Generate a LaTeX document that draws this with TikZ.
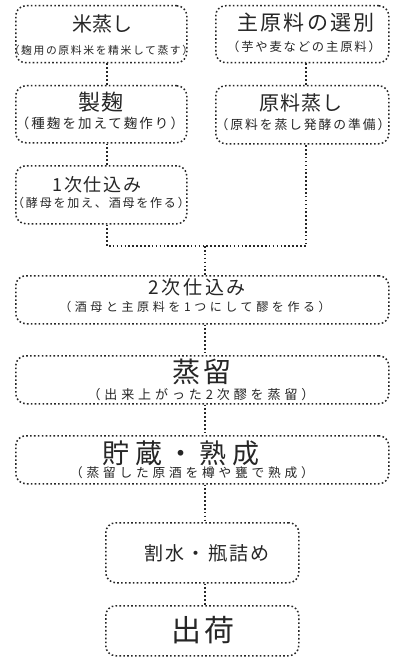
\documentclass[tikz,border=0pt]{standalone}
\usepackage{fontspec}
\newfontfamily\jp{Noto Sans CJK JP}
\newcommand{\jpf}[2]{\jp\fontsize{#1}{#1}\selectfont\addfontfeature{LetterSpace=#2}}
\begin{document}
\begin{tikzpicture}[x=1pt,y=-1pt,
  dotline/.style={draw=black!85, line width=1.5pt, dash pattern=on 1.6pt off 2.3pt},
  box/.style={dotline, rounded corners=10pt, inner sep=0pt, anchor=north west},
  wbox/.style={box, minimum width=373pt, minimum height=48pt},
  sbox/.style={box, minimum width=171pt, minimum height=57pt},
  nbox/.style={box, minimum width=193pt, minimum height=55pt},
  txt/.style={inner sep=0pt, text=black!85}]
\useasboundingbox[fill=white] (0,0) rectangle (398,666);

% boxes
\node[sbox] (b1) at (15,5) {};
\node[box, minimum width=173pt, minimum height=57pt] (b2) at (215,5) {};
\node[sbox] (b3) at (15,85) {};
\node[box, minimum width=173pt, minimum height=58pt] (b4) at (215,85) {};
\node[sbox, minimum height=58pt] (b5) at (15,165) {};
\node[wbox] (b6) at (15,275) {};
\node[wbox] (b7) at (15,355) {};
\node[wbox] (b8) at (15,435) {};
\node[box, minimum width=193pt, minimum height=60pt] (b9) at (105,522) {};
\node[box, minimum width=193pt, minimum height=50pt] (b10) at (105,605) {};

% texts
\node[txt, font=\jpf{20}{0}] (t1) at (102,24) {米蒸し};
\node[txt, font=\jpf{10.8}{15}] (s1) at (101,50) {（麹用の原料米を精米して蒸す）};
\node[txt, font=\jpf{21}{10}] (t2) at (306,23) {主原料の選別};
\node[txt, font=\jpf{12.3}{15}] (s2) at (304,47) {（芋や麦などの主原料）};
\node[txt, font=\jpf{22}{5}] (t3) at (101,102) {製麹};
\node[txt, font=\jpf{13.5}{15}] (s3) at (100,123) {（種麹を加えて麹作り）};
\node[txt, font=\jpf{20}{5}] (t4) at (301,103) {原料蒸し};
\node[txt, font=\jpf{12.8}{15}] (s4) at (303,125) {（原料を蒸し発酵の準備）};
\node[txt, font=\jpf{18}{10}] (t5) at (97,185) {1次仕込み};
\node[txt, font=\jpf{12}{15}] (s5) at (101,203) {（酵母を加え、酒母を作る）};
\node[txt, font=\jpf{19}{15}] (t6) at (197,287) {2次仕込み};
\node[txt, font=\jpf{12}{30}] (s6) at (195,307) {（酒母と主原料を1つにして醪を作る）};
\node[txt, font=\jpf{28}{10}] (t7) at (202,372) {蒸留};
\node[txt, font=\jpf{13}{30}] (s7) at (201,395) {（出来上がった2次醪を蒸留）};
\node[txt, font=\jpf{27}{20}] (t8) at (181,453) {貯蔵・熟成};
\node[txt, font=\jpf{12.7}{30}] (s8) at (192,473) {（蒸留した原酒を樽や甕で熟成）};
\node[txt, font=\jpf{19}{12}] (t9) at (207,553) {割水・瓶詰め};
\node[txt, font=\jpf{30}{8}] (t10) at (203,630) {出荷};

% connectors
\coordinate (cl) at (107,246);
\coordinate (cr) at (306,246);
\coordinate (cm) at (205,246);
\coordinate (cx) at (205,0);
\draw[dotline] (b1.south -| cl) -- (b3.north -| cl);
\draw[dotline] (b2.south -| cr) -- (b4.north -| cr);
\draw[dotline] (b3.south -| cl) -- (b5.north -| cl);
\draw[dotline] (b5.south -| cl) -- (cl) -- (cr) -- (b4.south -| cr);
\draw[dotline] (cm) -- (b6.north -| cm);
\draw[dotline] (b6.south -| cx) -- (b7.north -| cx);
\draw[dotline] (b7.south -| cx) -- (b8.north -| cx);
\draw[dotline] (b8.south -| cx) -- (b9.north -| cx);
\draw[dotline] (b9.south -| cx) -- (b10.north -| cx);
\end{tikzpicture}
\end{document}
